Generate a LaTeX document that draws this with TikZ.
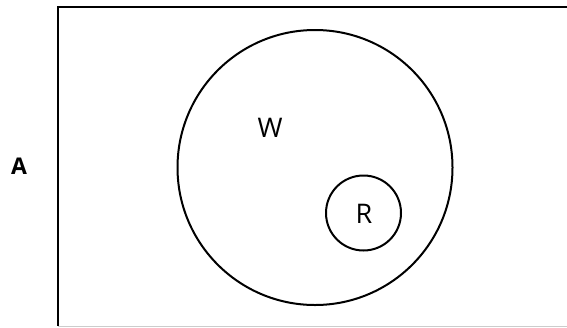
\documentclass[tikz,border=0pt]{standalone}
\usepackage{fontspec}
\setsansfont{Open Sans}
\usetikzlibrary{positioning}

\begin{document}
\begin{tikzpicture}[x=1pt,y=-1pt,
    set/.style={circle,draw,line width=2pt,inner sep=0pt},
    setname/.style={font=\sffamily\fontsize{27}{27}\selectfont,inner sep=0pt}]
\useasboundingbox (0,0) rectangle (567,327);
% universe frame
\coordinate (ul) at (58,7);
\coordinate (ur) at (567,7);
\coordinate (ll) at (58,326);
\coordinate (lr) at (567,326);
\draw[line width=2.6pt] (ur) -- (ul) -- (ll);
\draw[line width=0.8pt,black!20] (ll) -- (lr);
\node[font=\sffamily\bfseries\fontsize{23}{23}\selectfont,inner sep=0pt] (A) at (19,166) {A};
% sets
\node[set,minimum size=275pt] (big) at (315,167.5) {};
\node[set,minimum size=75pt] (small) at (363.5,213) {};
\node[setname] (W) at (270,128) {W};
\node[setname] (R) at (364,214) {R};
\end{tikzpicture}
\end{document}
